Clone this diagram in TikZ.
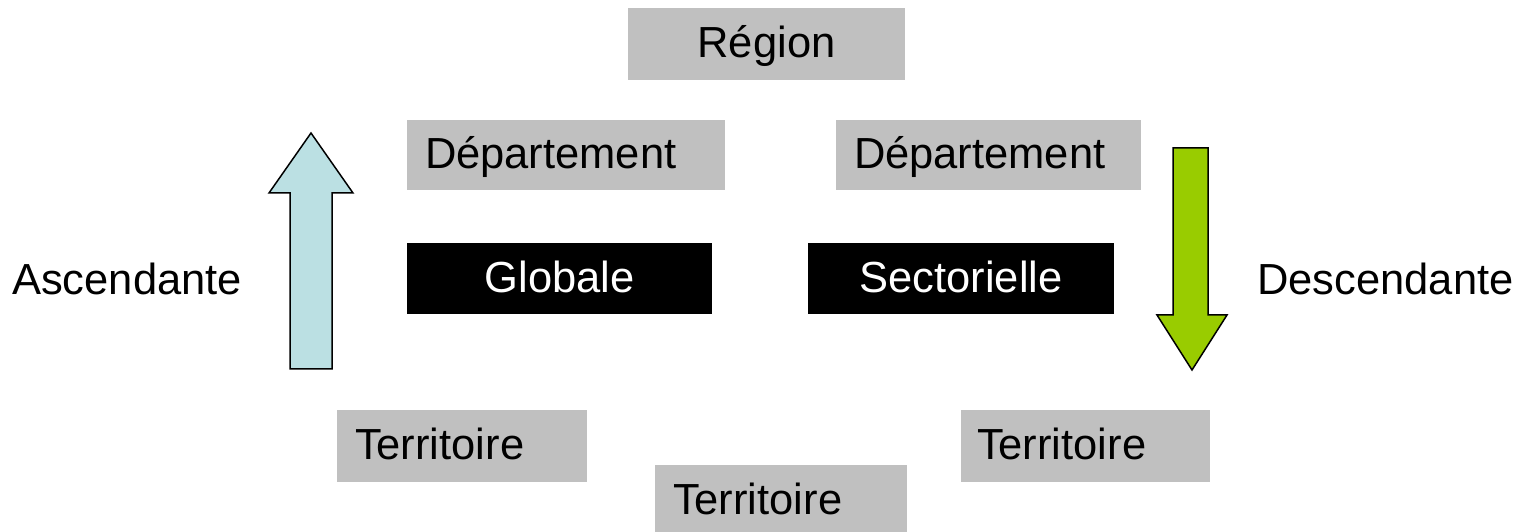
\documentclass[tikz,border=0pt]{standalone}
\usepackage{fontspec}
\setmainfont{Liberation Sans}
\definecolor{boxgray}{HTML}{C0C0C0}
\definecolor{upblue}{HTML}{BBE0E3}
\definecolor{downgreen}{HTML}{99CC00}
\begin{document}
\begin{tikzpicture}[x=1pt,y=1pt,
  lbl/.style={font=\fontsize{43.5}{52}\selectfont, inner sep=0pt},
  boxtext/.style={lbl, inner ysep=0pt, text height=36pt, text depth=8pt},
  graybox/.style={boxtext, fill=boxgray, inner xsep=18pt, align=left},
  grayc/.style={boxtext, fill=boxgray},
  blackbox/.style={boxtext, fill=black, text=white},
  blockarrow/.style={draw=black, line width=1.5pt, line join=miter}]
\useasboundingbox (0,0) rectangle (1532,532);
\fill[white] (0,0) rectangle (1532,532);
% boxes
\node[grayc, minimum width=277pt, minimum height=72pt] (reg) at (766.5,488) {Région};
\node[graybox, text width=282pt, minimum height=70pt] (dep1) at (566,377) {Département};
\node[graybox, text width=269pt, minimum height=70pt] (dep2) at (988.5,377) {Département};
\node[blackbox, minimum width=305pt, minimum height=71pt] (glob) at (559.5,253.5) {Globale};
\node[blackbox, minimum width=306pt, minimum height=71pt] (sect) at (961,253.5) {Sectorielle};
\node[graybox, text width=214pt, minimum height=72pt] (ter1) at (462,86) {Territoire};
\node[graybox, inner xsep=16pt, text width=217pt, minimum height=72pt] (ter2) at (1085.5,86) {Territoire};
\node[graybox, text width=216pt, minimum height=72pt] (ter3) at (781,31) {Territoire};
% side labels
\node[lbl, anchor=base west] (asc) at (12,237) {Ascendante};
\node[lbl, anchor=base west] (desc) at (1257,237) {Descendante};
% block arrows
\draw[blockarrow, fill=upblue] (290,163) -- (290,339) -- (269,339) -- (311,399) -- (353,339) -- (332,339) -- (332,163) -- cycle;
\draw[blockarrow, fill=downgreen] (1173,384) -- (1173,217) -- (1157,217) -- (1192,162) -- (1227,217) -- (1208,217) -- (1208,384) -- cycle;
\end{tikzpicture}
\end{document}
